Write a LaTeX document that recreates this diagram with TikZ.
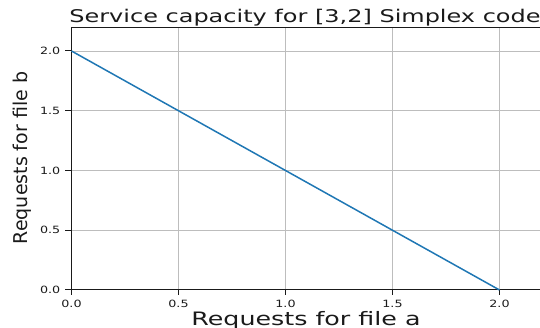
\documentclass[tikz,border=0pt]{standalone}
\usepackage{fontspec}
\setmainfont{DejaVu Sans}
\usepackage{xcolor}
\usepackage{tikz}
\usetikzlibrary{positioning}
\definecolor{ink}{HTML}{1A1A1A}
\definecolor{gridc}{HTML}{BDBDBD}
\definecolor{curve}{HTML}{1F77B4}
\newcommand{\wide}[2][1.37]{\scalebox{#1}[1]{#2}}

\begin{document}
\begin{tikzpicture}[x=214pt, y=119.5pt,
  gridline/.style={gridc, line width=0.9pt},
  spine/.style={ink, line width=1pt},
  ticklab/.style={inner sep=0pt, text=ink, font=\fontsize{10}{12}\selectfont},
  lab/.style={inner sep=0pt, text=ink, font=\fontsize{18.5}{22}\selectfont}]
  \useasboundingbox (-71.5pt,-38pt) rectangle (468.5pt,290pt);
  % grid
  \foreach \v in {0.5,1,1.5,2} {
    \draw[gridline] (\v,0) -- (\v,2.2);
    \draw[gridline] (0,\v) -- (2.2,\v);
  }
  % axes box
  \draw[spine] (0,2.2) -- (0,0) -- (2.2,0);
  \draw[spine] (0,2.2) -- (2.2,2.2);
  % ticks and tick labels
  \foreach \v [count=\i] in {0.0,0.5,1.0,1.5,2.0} {
    \draw[spine] (\v,0) -- ++(0,-4.9pt);
    \draw[spine] (0,\v) -- ++(-6.5pt,0);
    \node[ticklab, anchor=north] (xt\i) at ([yshift=-10pt]\v,0) {\wide[1.27]{\v}};
    \node[ticklab, anchor=east] (yt\i) at ([xshift=-11pt]0,\v) {\wide[1.27]{\v}};
  }
  % capacity line
  \draw[curve, line width=1.5pt] (0,2) -- (2,0);
  % labels
  \node[lab, anchor=base, font=\fontsize{17.5}{21}\selectfont] (title) at (233.5pt,267.6pt)
    {\wide{Service capacity for [3,2] Simplex code}};
  \node[lab, anchor=base] (xlab) at (234.5pt,-36pt) {\wide{Requests for file a}};
  \node[lab, anchor=base, rotate=90, font=\fontsize{19}{22}\selectfont] (ylab) at (-44.5pt,132pt)
    {Requests for file b};
\end{tikzpicture}
\end{document}
